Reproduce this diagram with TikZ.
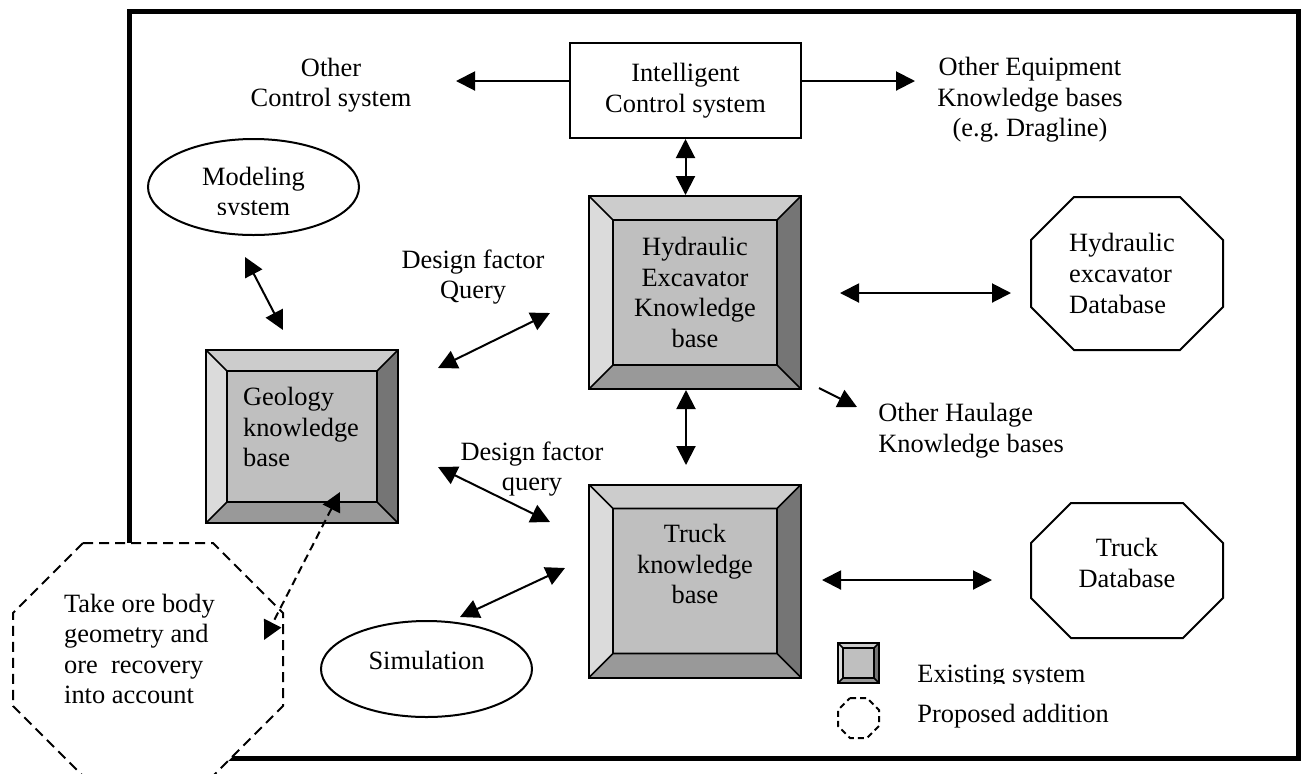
\documentclass[tikz,border=0pt]{standalone}
\usepackage{fontspec}
\setmainfont{Liberation Serif}
\frenchspacing
\usetikzlibrary{arrows.meta,shapes.geometric}

\definecolor{faceinner}{gray}{0.75}
\definecolor{facetop}{gray}{0.80}
\definecolor{faceleft}{gray}{0.86}
\definecolor{faceright}{gray}{0.46}
\definecolor{facebottom}{gray}{0.60}

% octagon: options, centre, half width, half height, corner cut
\newcommand{\octagon}[5][]{%
  \draw[#1] ([shift={(-#3+#5,#4)}]#2) -- ([shift={(#3-#5,#4)}]#2)
    -- ([shift={(#3,#4-#5)}]#2) -- ([shift={(#3,-#4+#5)}]#2)
    -- ([shift={(#3-#5,-#4)}]#2) -- ([shift={(-#3+#5,-#4)}]#2)
    -- ([shift={(-#3,-#4+#5)}]#2) -- ([shift={(-#3,#4-#5)}]#2) -- cycle;}

\tikzset{
  every node/.style={font=\fontsize{13.2pt}{15.3pt}\selectfont, align=center, inner sep=0pt},
  frame/.style={line width=2.5pt},
  link/.style={line width=1pt, -{Triangle[length=9.5pt,width=9.5pt]}},
  dlink/.style={line width=1pt, {Triangle[length=9.5pt,width=9.5pt]}-{Triangle[length=9.5pt,width=9.5pt]}},
  dashlink/.style={dlink, dash pattern=on 4pt off 2.5pt},
  plainbox/.style={draw, line width=1pt, minimum width=115.5pt, minimum height=47.5pt},
  bevelbox/.style={draw, line width=1pt, fill=faceinner, path picture={
      \path (path picture bounding box.north west) coordinate (bnw)
            (path picture bounding box.north east) coordinate (bne)
            (path picture bounding box.south east) coordinate (bse)
            (path picture bounding box.south west) coordinate (bsw)
            ([shift={(#1,-#1)}]bnw) coordinate (inw)
            ([shift={(-#1,-#1)}]bne) coordinate (ine)
            ([shift={(-#1,#1)}]bse) coordinate (ise)
            ([shift={(#1,#1)}]bsw) coordinate (isw);
      \fill[facetop] (bnw) -- (bne) -- (ine) -- (inw) -- cycle;
      \fill[faceright] (bne) -- (bse) -- (ise) -- (ine) -- cycle;
      \fill[facebottom] (bse) -- (bsw) -- (isw) -- (ise) -- cycle;
      \fill[faceleft] (bsw) -- (bnw) -- (inw) -- (isw) -- cycle;
      \draw[line width=0.8pt] (inw) rectangle (ise) (bnw) -- (inw) (bne) -- (ine)
            (bse) -- (ise) (bsw) -- (isw);}},
  kbbox/.style={bevelbox=12pt, minimum width=106pt, minimum height=96.5pt},
  geobox/.style={bevelbox=10.5pt, minimum width=96pt, minimum height=86.5pt},
  dbline/.style={line width=1pt},
  proposed/.style={fill=white, line width=1pt, dash pattern=on 5pt off 3pt},
  oval/.style={ellipse, draw, line width=1pt, minimum width=105.5pt, minimum height=48pt}
}

\begin{document}
\begin{tikzpicture}[x=0.5pt,y=-0.5pt]
\useasboundingbox (0,0) rectangle (1302,773);

% outer frame
\draw[frame] (129,11) rectangle (1298,758);

% control level
\node[plainbox] (ics) at (685.5,90.5) {Intelligent\\Control system};
\node (othctl) at (331,85) {Other\\Control system};
\node (otheq) at (1030,100) {Other Equipment\\Knowledge bases\\(e.g. Dragline)};

% knowledge bases
\node[kbbox] (hyd) at (695,292.5) {Hydraulic\\Excavator\\Knowledge\\base};
\node[kbbox, label={[yshift=8.5pt]center:Truck\\knowledge\\base}] (truck) at (695,581) {};
\node[geobox, label={[xshift=-0.5pt,yshift=4.75pt,align=left]center:Geology\\knowledge\\base}] (geo) at (302,436.5) {};

% databases
\coordinate (hdbc) at (1127,273.5);
\coordinate (tdbc) at (1127,570.5);
\octagon[dbline]{hdbc}{48pt}{38.25pt}{21.5pt}
\octagon[dbline]{tdbc}{48pt}{33.75pt}{20pt}
\node[minimum width=96pt, minimum height=76.5pt,
      label={[xshift=-2.5pt,align=left]center:Hydraulic\\excavator\\Database}] (hdb) at (hdbc) {};
\node[minimum width=96pt, minimum height=67.5pt,
      label={[yshift=3.75pt]center:Truck\\Database}] (tdb) at (tdbc) {};

% other systems
\node[oval] (model) at (253.5,187) {};
\begin{scope}
  \clip (150,140) rectangle (360,214);
  \node (modtext) at (253.5,194) {Modeling\\system};
\end{scope}
\node[oval, label={[yshift=4.5pt]center:Simulation}] (sim) at (426.5,669) {};
\node[anchor=west, align=left] (haul) at (878,430.5) {Other Haulage\\Knowledge bases};
\node (dfq1) at (473,277) {Design factor\\Query};
\node (dfq2) at (532,469) {Design factor\\query};

% proposed addition
\coordinate (takec) at (148,659.5);
\octagon[proposed]{takec}{67.5pt}{58.25pt}{35pt}
\node[minimum width=135pt, minimum height=116.5pt,
      label={[xshift=-4.25pt,yshift=5.25pt,align=left]center:Take ore body\\geometry and\\ore\ \ recovery\\into account}] (take) at (takec) {};

% arrow ends
\coordinate (ctlend) at (456,81);
\coordinate (eqend) at (915,81);
\coordinate (trtop) at (686,465);
\coordinate (hd1) at (840,293);
\coordinate (hd2) at (1011,293);
\coordinate (td1) at (822,580);
\coordinate (td2) at (992,580);
\coordinate (hl1) at (819,388);
\coordinate (hl2) at (857,407);
\coordinate (mg1) at (245,257);
\coordinate (mg2) at (283,330);
\coordinate (dq1) at (438,368);
\coordinate (dq2) at (550,313);
\coordinate (dr1) at (438,467);
\coordinate (dr2) at (550,522);
\coordinate (st1) at (460,617);
\coordinate (st2) at (565,568);
\coordinate (tk1) at (340,492);
\coordinate (tk2) at (264,640);

\draw[link] (ics.west |- ctlend) -- (ctlend);
\draw[link] (ics.east |- eqend) -- (eqend);
\draw[dlink] (ics.south) -- (ics.south |- hyd.north);
\draw[dlink] (hyd.south -| trtop) -- (trtop);
\draw[dlink] (hd1) -- (hd2);
\draw[dlink] (td1) -- (td2);
\draw[link] (hl1) -- (hl2);
\draw[dlink] (mg1) -- (mg2);
\draw[dlink] (dq1) -- (dq2);
\draw[dlink] (dr1) -- (dr2);
\draw[dlink] (st1) -- (st2);
\draw[dashlink] (tk1) -- (tk2);

% legend
\node[bevelbox=2.5pt, minimum width=20.5pt, minimum height=20pt, line width=1.2pt] (legex) at (858.5,663) {};
\coordinate (legprc) at (858.5,718);
\octagon[proposed, dash pattern=on 3pt off 2pt]{legprc}{10.25pt}{10pt}{6pt}
\node[minimum width=20.5pt, minimum height=20pt] (legpr) at (legprc) {};
\begin{scope}
  \clip (900,640) rectangle (1120,683);
  \node[anchor=base west] (legextext) at (917,682) {Existing system};
\end{scope}
\node[anchor=base west] (legprtext) at (917,722) {Proposed addition};
\end{tikzpicture}
\end{document}
